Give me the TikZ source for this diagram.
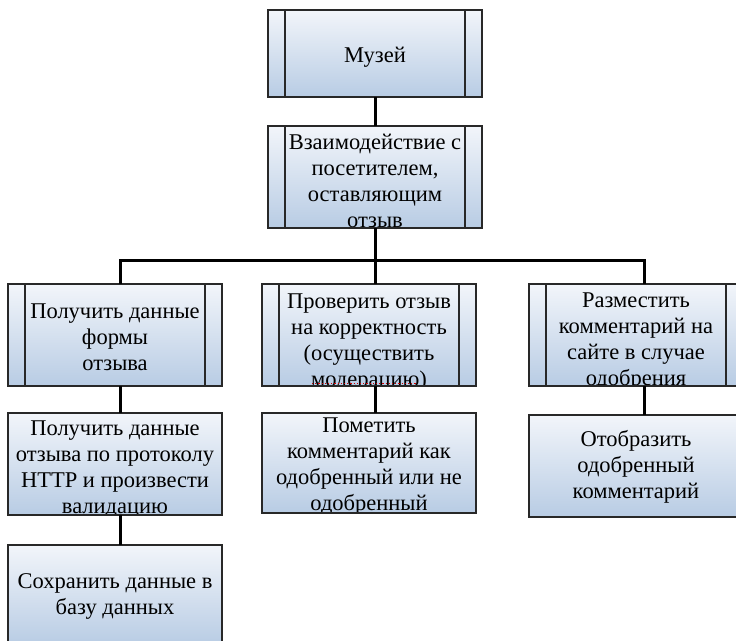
\documentclass[tikz,border=0pt]{standalone}
\usepackage{fontspec}
\setmainfont{Liberation Serif}
\begin{document}
\definecolor{boxtop}{RGB}{242,245,250}
\definecolor{boxbot}{RGB}{184,204,228}
\definecolor{boxline}{RGB}{40,40,40}
\def\tdy{0pt}
\newif\ifsidebars
\begin{tikzpicture}[x=1pt,y=-1pt,
  conn/.style={line width=3pt, black},
  blk/.style={draw=boxline, line width=1.3pt, top color=boxtop, bottom color=boxbot,
    minimum width=214pt, minimum height=102pt, inner sep=0pt, outer sep=0pt},
  dy/.code={\def\tdy{#1}},
  sidebars/.code={\sidebarstrue},
  txt/.style={path picture={
      \ifsidebars
        \draw[boxline, line width=1.3pt]
          ([xshift=17pt]path picture bounding box.north west) -- ([xshift=17pt]path picture bounding box.south west)
          ([xshift=-17pt]path picture bounding box.north east) -- ([xshift=-17pt]path picture bounding box.south east);
      \fi
      \node[align=center, inner sep=0pt, font=\fontsize{22.5}{26}\selectfont]
        at ([yshift=\tdy]path picture bounding box.center) {#1};}}
]
\useasboundingbox (0,0) rectangle (736,640);
\fill[white] (0,0) rectangle (736,640);
\clip (0,0) rectangle (736,640);

% upper levels
\node[blk, minimum height=87pt, sidebars, dy=-4pt, txt={Музей}] (top) at (375,53.5) {};
\node[blk, sidebars, dy=-4pt, txt={Взаимодействие с\\посетителем,\\оставляющим\\отзыв}] (b2) at (375,177) {};

% second level: sub-processes
\node[blk, sidebars, dy=-2pt, txt={Получить данные\\формы\\отзыва}] (l1) at (115,335) {};
\node[blk, sidebars, dy=-8pt, txt={Проверить отзыв\\на корректность\\(осуществить\\модерацию)}] (m1) at (369,335) {};
\node[blk, sidebars, dy=-7pt, txt={Разместить\\комментарий на\\сайте в случае\\одобрения}] (r1) at (636,335) {};

% third level
\node[blk, dy=-5pt, txt={Получить данные\\отзыва по протоколу\\HTTP и произвести\\валидацию}] (l2) at (115,464) {};
\node[blk, minimum height=100pt, dy=-4pt, txt={Пометить\\комментарий как\\одобренный или не\\одобренный}] (m2) at (369,463) {};
\node[blk, dy=-1pt, txt={Отобразить\\одобренный\\комментарий}] (r2) at (636,466) {};
\node[blk, minimum height=100pt, dy=-1pt, txt={Сохранить данные в\\базу данных}] (l3) at (115,595) {};

% spell-check mark under the clipped word
\draw[red!80!black, line width=1.2pt, dotted] (312,383.5) -- (416,383.5);

% connectors
\coordinate (bus) at (375,260);
\draw[conn] (top.south) -- (b2.north);
\draw[conn] (b2.south) -- (bus) -- ([xshift=6pt]m1.north);
\draw[conn] ([xshift=5pt]l1.north) |- (bus) -| ([xshift=8pt]r1.north);
\draw[conn] ([xshift=5pt]l1.south) -- ([xshift=5pt]l2.north);
\draw[conn] ([xshift=5pt]l2.south) -- ([xshift=5pt]l3.north);
\draw[conn] ([xshift=6pt]m1.south) -- ([xshift=6pt]m2.north);
\draw[conn] ([xshift=8pt]r1.south) -- ([xshift=8pt]r2.north);
\end{tikzpicture}
\end{document}
